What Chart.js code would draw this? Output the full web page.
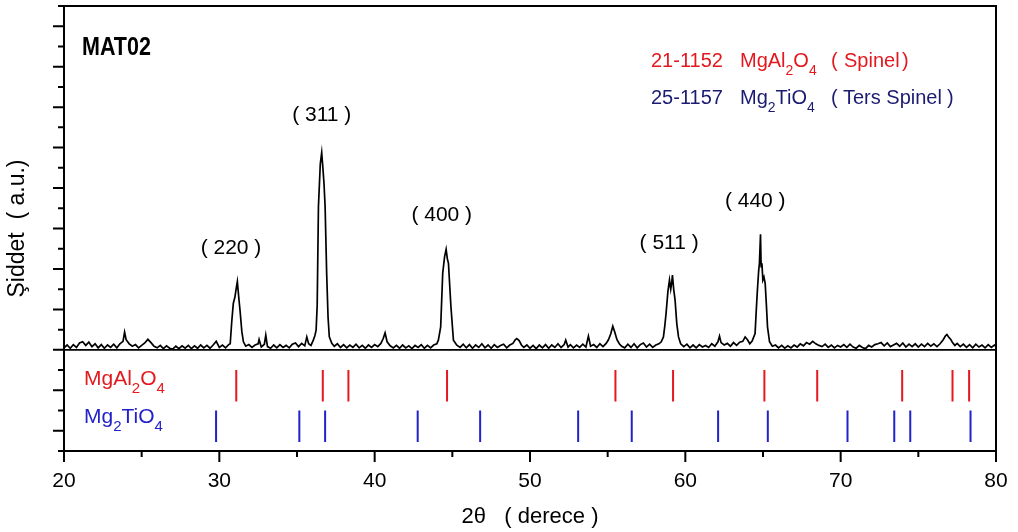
<!DOCTYPE html>
<html>
<head>
<meta charset="utf-8">
<script src="https://cdn.jsdelivr.net/npm/chart.js@4.4.1/dist/chart.umd.min.js"></script>
<style>
  html, body { margin: 0; padding: 0; background: #fff; }
  #wrap { width: 1018px; height: 532px; }
</style>
</head>
<body>
<div id="wrap"><canvas id="xrd"></canvas></div>
<script>
// measured pattern, MAT02 (2theta in degrees, intensity in a.u.)
const twoTheta = [
  20.0,20.2,20.4,20.6,20.8,21.0,21.2,21.4,21.6,21.8,22.0,22.2,22.4,22.6,22.8,23.0,23.2,23.4,23.6,23.8,23.9,24.0,24.2,24.4,24.6,24.8,
  25.0,25.2,25.4,25.6,25.8,26.0,26.2,26.4,26.6,26.8,27.0,27.2,27.4,27.6,27.8,28.0,28.2,28.4,28.6,28.8,29.0,29.2,29.4,29.6,29.8,
  30.0,30.2,30.4,30.6,30.7,30.8,30.9,31.0,31.1,31.16,31.25,31.33,31.45,31.55,31.7,31.9,32.1,32.3,32.5,32.56,32.7,32.9,32.99,
  33.1,33.3,33.5,33.7,33.9,34.1,34.3,34.5,34.7,34.9,35.1,35.3,35.5,35.63,35.75,35.9,36.05,36.15,36.23,36.3,36.38,36.5,36.59,
  36.66,36.74,36.81,36.91,37.0,37.08,37.24,37.4,37.6,37.8,38.0,38.2,38.4,38.6,38.8,39.0,39.2,39.4,39.6,39.8,40.0,40.2,40.4,
  40.55,40.67,40.8,41.0,41.2,41.4,41.6,41.8,42.0,42.2,42.4,42.6,42.8,43.0,43.2,43.4,43.6,43.8,44.0,44.1,44.25,44.38,44.5,44.6,
  44.68,44.75,44.91,45.07,45.29,45.5,45.7,45.9,46.1,46.3,46.5,46.7,46.9,47.1,47.3,47.5,47.7,47.9,48.1,48.3,48.5,48.7,48.9,
  49.05,49.15,49.3,49.45,49.6,49.8,50.0,50.2,50.4,50.6,50.8,51.0,51.2,51.4,51.6,51.8,52.0,52.2,52.3,52.45,52.6,52.8,53.0,53.2,
  53.4,53.6,53.76,53.9,54.1,54.3,54.5,54.7,54.9,55.05,55.2,55.33,55.45,55.6,55.75,55.9,56.1,56.3,56.5,56.7,56.9,57.1,57.3,
  57.5,57.7,57.9,58.1,58.3,58.45,58.59,58.68,58.76,58.88,58.98,59.06,59.12,59.17,59.25,59.34,59.45,59.56,59.7,59.9,60.1,60.3,
  60.5,60.7,60.9,61.1,61.3,61.5,61.7,61.9,62.1,62.2,62.3,62.5,62.7,62.9,63.1,63.3,63.5,63.7,63.85,64.0,64.15,64.3,64.49,64.57,
  64.64,64.72,64.77,64.84,64.88,64.93,64.99,65.06,65.14,65.22,65.29,65.42,65.6,65.8,66.0,66.2,66.4,66.6,66.8,67.0,67.2,67.4,
  67.6,67.8,68.0,68.2,68.4,68.6,68.8,69.0,69.2,69.4,69.6,69.8,70.0,70.2,70.4,70.6,70.8,71.0,71.2,71.4,71.6,71.8,72.0,72.2,
  72.4,72.6,72.8,73.0,73.2,73.4,73.6,73.8,74.0,74.2,74.4,74.6,74.8,75.0,75.2,75.4,75.6,75.8,76.0,76.2,76.4,76.6,76.75,76.84,
  76.95,77.1,77.2,77.35,77.5,77.7,77.9,78.1,78.3,78.5,78.7,78.9,79.1,79.3,79.5,79.7,79.9,80.0
];
const intensity = [
  5.10,5.24,5.08,5.26,5.12,5.34,5.40,5.22,5.38,5.16,5.30,5.10,5.26,5.08,5.24,5.12,5.28,5.10,5.30,5.42,5.88,5.50,5.30,5.18,5.26,5.10,
  5.22,5.34,5.52,5.36,5.18,5.10,5.22,5.06,5.20,5.08,5.04,5.18,5.06,5.20,5.08,5.22,5.06,5.20,5.08,5.24,5.10,5.22,5.08,5.24,5.42,
  5.12,5.24,5.10,5.26,5.30,6.40,7.30,7.60,8.10,8.37,7.60,6.97,5.90,5.40,5.18,5.26,5.12,5.24,5.30,5.51,5.14,5.28,5.73,
  5.16,5.08,5.24,5.10,5.26,5.12,5.22,5.10,5.28,5.34,5.16,5.32,5.20,5.64,5.30,5.22,5.48,5.70,5.97,7.20,12.08,14.20,14.75,
  14.06,13.20,12.08,8.78,6.60,5.64,5.32,5.18,5.30,5.12,5.26,5.10,5.24,5.12,5.28,5.10,5.22,5.08,5.24,5.12,5.26,5.16,5.32,
  5.56,5.84,5.40,5.20,5.10,5.22,5.08,5.24,5.10,5.20,5.06,5.22,5.12,5.26,5.08,5.22,5.10,5.24,5.30,5.48,6.14,8.78,9.60,9.97,
  9.50,9.28,7.13,5.48,5.23,5.12,5.28,5.10,5.26,5.08,5.24,5.12,5.30,5.10,5.24,5.08,5.26,5.12,5.22,5.28,5.10,5.24,5.32,
  5.50,5.56,5.46,5.24,5.12,5.24,5.08,5.22,5.06,5.24,5.10,5.26,5.08,5.24,5.12,5.30,5.12,5.26,5.48,5.14,5.26,5.10,5.24,5.12,
  5.28,5.14,5.68,5.18,5.26,5.12,5.30,5.16,5.32,5.50,5.80,6.17,5.90,5.50,5.30,5.18,5.10,5.28,5.12,5.30,5.10,5.26,5.34,
  5.14,5.28,5.12,5.24,5.30,5.40,5.64,6.20,6.80,7.90,8.45,8.00,8.30,8.70,8.00,7.46,6.30,5.64,5.30,5.16,5.28,5.10,
  5.24,5.10,5.26,5.14,5.22,5.12,5.30,5.18,5.40,5.68,5.36,5.24,5.32,5.18,5.36,5.22,5.38,5.42,5.64,5.50,5.30,5.44,5.81,7.00,
  7.96,8.90,9.28,10.71,9.11,9.28,8.45,8.60,8.29,7.20,6.14,5.40,5.18,5.24,5.10,5.22,5.08,5.20,5.10,5.24,5.14,5.30,
  5.20,5.36,5.28,5.42,5.30,5.22,5.16,5.28,5.12,5.24,5.10,5.22,5.14,5.26,5.12,5.28,5.14,5.08,5.22,5.12,5.06,5.22,5.14,5.26,
  5.30,5.36,5.20,5.34,5.16,5.24,5.32,5.18,5.34,5.14,5.28,5.16,5.30,5.14,5.28,5.16,5.32,5.18,5.30,5.16,5.30,5.50,5.70,5.76,
  5.64,5.50,5.36,5.22,5.32,5.16,5.28,5.12,5.26,5.10,5.28,5.14,5.24,5.10,5.26,5.12,5.24,5.18
];

// reference card lines (2theta)
const spinelLines = [31.09, 36.66, 38.31, 44.66, 55.50, 59.21, 65.09, 68.49, 73.96, 77.20, 78.27];       // 21-1152 MgAl2O4
const tersSpinelLines = [29.79, 35.15, 36.81, 42.77, 46.79, 53.10, 56.55, 62.11, 65.31, 70.44, 73.45, 74.48, 78.36]; // 25-1157 Mg2TiO4

const peakNames = ['( 220 )', '( 311 )', '( 400 )', '( 511 )', '( 440 )'];
const peakNameX = [30.75, 36.59, 44.32, 58.96, 64.50];
const peakNameY = [10.03, 16.62, 11.67, 10.28, 12.33];

const xTickValues = [20, 30, 40, 50, 60, 70, 80];

const FONT = '"Liberation Sans", Arial, sans-serif';
const RED = '#e3191f';
const BLUE = '#2222cc';
const NAVY = '#1b1b72';

function sticks(lines, lo, hi) {
  const pts = [];
  lines.forEach(p => {
    pts.push({ x: p, y: lo }, { x: p, y: hi }, { x: p, y: null });
  });
  return pts;
}

// draws text with subscript parts: [text, isSub]
function drawRich(ctx, x, y, parts, size) {
  ctx.textAlign = 'left';
  ctx.textBaseline = 'alphabetic';
  parts.forEach(([t, sub]) => {
    ctx.font = (sub ? Math.round(size * 0.72) : size) + 'px ' + FONT;
    ctx.fillText(t, x, sub ? y + 8 : y);
    x += ctx.measureText(t).width;
  });
}

const decorPlugin = {
  id: 'decor',
  afterDatasetsDraw(chart) {
    const { ctx, chartArea: a, scales } = chart;
    const xs = scales.x, ys = scales.y;
    ctx.save();
    ctx.strokeStyle = '#000';
    ctx.lineWidth = 2;
    ctx.strokeRect(a.left, a.top, a.right - a.left, a.bottom - a.top);

    // separator between pattern and reference lines
    ctx.lineWidth = 1.6;
    ctx.beginPath();
    ctx.moveTo(a.left, ys.getPixelForValue(5));
    ctx.lineTo(a.right, ys.getPixelForValue(5));
    ctx.stroke();

    // outward ticks
    ctx.lineWidth = 2;
    ctx.beginPath();
    for (let v = 0; v <= 22; v++) {
      const py = ys.getPixelForValue(v);
      const len = v % 2 === 1 ? 11 : 6;
      ctx.moveTo(a.left - len, py);
      ctx.lineTo(a.left, py);
    }
    for (let v = 20; v <= 80; v += 5) {
      const px = xs.getPixelForValue(v);
      const len = v % 10 === 0 ? 11 : 6;
      ctx.moveTo(px, a.bottom);
      ctx.lineTo(px, a.bottom + len);
    }
    ctx.stroke();

    // peak indices
    ctx.fillStyle = '#000';
    ctx.font = '21px ' + FONT;
    ctx.textAlign = 'center';
    ctx.textBaseline = 'middle';
    peakNames.forEach((n, i) => {
      ctx.fillText(n, xs.getPixelForValue(peakNameX[i]), ys.getPixelForValue(peakNameY[i]));
    });

    // sample name (condensed bold)
    ctx.save();
    ctx.translate(82, 55);
    ctx.scale(0.86, 1);
    ctx.font = 'bold 25px ' + FONT;
    ctx.textAlign = 'left';
    ctx.textBaseline = 'alphabetic';
    ctx.fillText('MAT02', 0, 0);
    ctx.restore();

    // card legend
    ctx.fillStyle = RED;
    drawRich(ctx, 651, 67, [['21-1152', 0]], 20);
    drawRich(ctx, 740, 67, [['MgAl', 0], ['2', 1], ['O', 0], ['4', 1]], 20);
    drawRich(ctx, 831, 67, [['(', 0]], 20);
    drawRich(ctx, 844, 67, [['Spinel', 0]], 20);
    drawRich(ctx, 902, 67, [[')', 0]], 20);
    ctx.fillStyle = NAVY;
    drawRich(ctx, 651, 104, [['25-1157', 0]], 20);
    drawRich(ctx, 740, 104, [['Mg', 0], ['2', 1], ['TiO', 0], ['4', 1]], 20);
    drawRich(ctx, 831, 104, [['(', 0]], 20);
    drawRich(ctx, 843, 104, [['Ters Spinel', 0]], 20);
    drawRich(ctx, 947, 104, [[')', 0]], 20);

    // phase labels in lower panel
    ctx.fillStyle = RED;
    drawRich(ctx, 84, 385, [['MgAl', 0], ['2', 1], ['O', 0], ['4', 1]], 21);
    ctx.fillStyle = BLUE;
    drawRich(ctx, 84, 423, [['Mg', 0], ['2', 1], ['TiO', 0], ['4', 1]], 21);
    ctx.restore();
  }
};

Chart.defaults.color = '#000';
Chart.defaults.font.family = FONT;

new Chart(document.getElementById('xrd'), {
  type: 'line',
  data: {
    datasets: [
      {
        label: 'MAT02',
        data: twoTheta.map((t, i) => ({ x: t, y: intensity[i] })),
        borderColor: '#000',
        borderWidth: 1.7,
        pointRadius: 0,
        tension: 0
      },
      {
        label: '21-1152 MgAl2O4',
        data: sticks(spinelLines, 2.45, 4.0),
        borderColor: RED,
        borderWidth: 2,
        pointRadius: 0,
        spanGaps: false
      },
      {
        label: '25-1157 Mg2TiO4',
        data: sticks(tersSpinelLines, 0.45, 2.0),
        borderColor: BLUE,
        borderWidth: 2,
        pointRadius: 0,
        spanGaps: false
      }
    ]
  },
  options: {
    responsive: true,
    maintainAspectRatio: false,
    animation: false,
    devicePixelRatio: 1,
    layout: { padding: { left: 0, right: 22, top: 6, bottom: 0 } },
    plugins: { legend: { display: false }, tooltip: { enabled: false } },
    scales: {
      x: {
        type: 'linear',
        min: 20,
        max: 80,
        afterBuildTicks: s => { s.ticks = xTickValues.map(v => ({ value: v })); },
        afterFit: s => { s.height = 81; s.paddingLeft = 0; s.paddingRight = 0; },
        grid: { display: false, drawTicks: false },
        border: { display: false },
        ticks: { font: { size: 21 }, padding: 18, maxRotation: 0 },
        title: { display: true, text: '2θ   ( derece )', font: { size: 22 }, padding: { top: 0, bottom: 2 } }
      },
      y: {
        type: 'linear',
        min: 0,
        max: 22,
        afterFit: s => { s.width = 64; },
        grid: { display: false, drawTicks: false },
        border: { display: false },
        ticks: { display: false },
        title: { display: true, text: 'Şiddet  ( a.u.)', font: { size: 23 }, padding: { top: 4, bottom: 0 } }
      }
    }
  },
  plugins: [decorPlugin]
});
</script>
</body>
</html>
